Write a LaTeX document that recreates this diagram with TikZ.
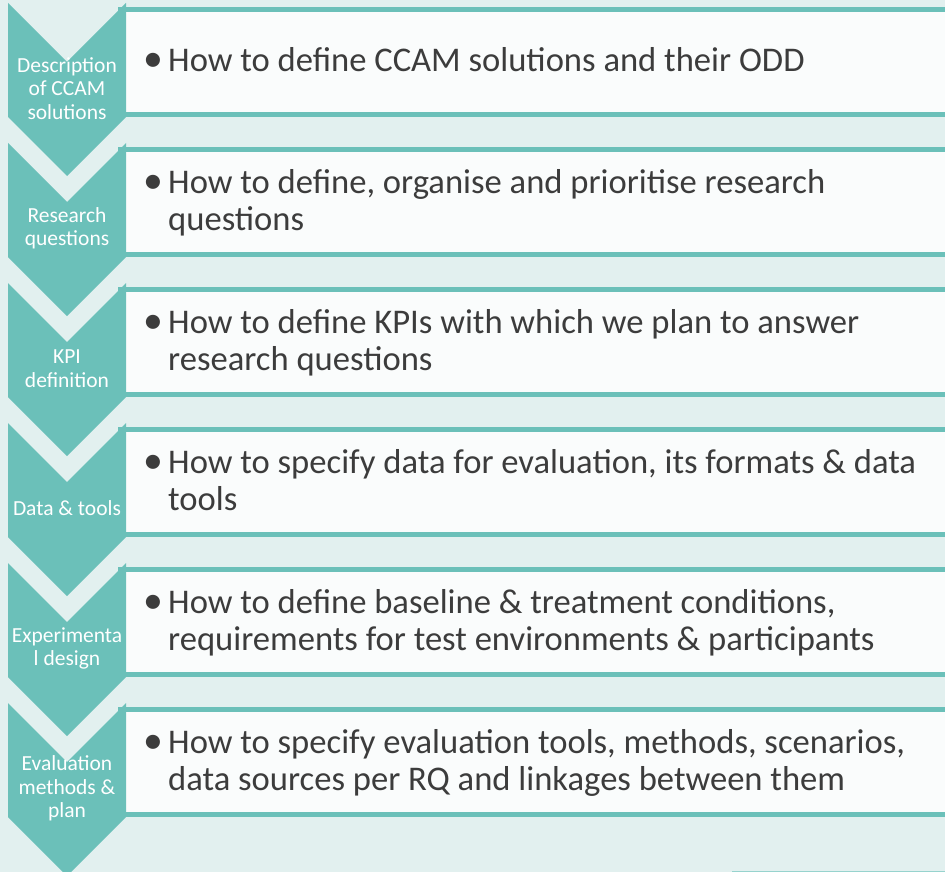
\documentclass[tikz,border=0pt]{standalone}
\usepackage{fontspec}
\setmainfont{Carlito}
\definecolor{teal1}{RGB}{107,192,185}
\definecolor{bgc}{RGB}{226,240,239}
\definecolor{boxc}{RGB}{250,252,252}
\definecolor{txt}{RGB}{60,60,60}
\tikzset{
  chev/.style={fill=teal1, draw=none},
  stepboxx/.style={fill=boxc, draw=teal1, line width=5pt},
  chevlabel/.style={text=white, align=center, font=\fontsize{21.5}{23.5}\selectfont, inner sep=0pt},
  boxtext/.style={text=txt, anchor=west, inner sep=0pt, font=\fontsize{34.6}{37}\selectfont},
}
\newcommand{\blt}{\makebox[22pt][l]{\hspace{-3pt}\scalebox{1.15}{\textbullet}}}
\begin{document}
\begin{tikzpicture}[x=1pt,y=-1pt]
\useasboundingbox (0,0) rectangle (945,872);
\clip (0,0) rectangle (945,872);
\fill[bgc] (0,0) rectangle (945,872);
\foreach \i/\lab/\txt in {
  0/{Description\\of CCAM\\solutions}/{\blt & How to define CCAM solutions and their ODD},
  1/{Research\\questions}/{\blt & How to define, organise and prioritise research\\ & questions},
  2/{KPI\\definition}/{\blt & How to define KPIs with which we plan to answer\\ & research questions},
  3/{Data \& tools}/{\blt & How to specify data for evaluation, its formats \& data\\ & tools},
  4/{Experimenta\\l design}/{\blt & How to define baseline \& treatment conditions,\\ & requirements for test environments \& participants},
  5/{Evaluation\\methods \&\\plan}/{\blt & How to specify evaluation tools, methods, scenarios,\\ & data sources per RQ and linkages between them}}{
  \pgfmathsetmacro{\t}{3+140*\i}
  \draw[stepboxx] (120,\t+6.5) rectangle (960,\t+111.5);
  \fill[chev] (8,\t) -- (67,\t+59) -- (126,\t) -- (126,\t+114) -- (67,\t+173) -- (8,\t+114) -- cycle;
  \node[chevlabel] (lab\i) at (67,\t+85.5) {\lab};
  \node[boxtext] (txt\i) at (146,\t+61.5) {\begin{tabular}{@{}l@{}l@{}}\txt\end{tabular}};
}
\draw[teal1!70, line width=1.5pt] (732,871.5) -- (960,871.5);
\end{tikzpicture}
\end{document}
